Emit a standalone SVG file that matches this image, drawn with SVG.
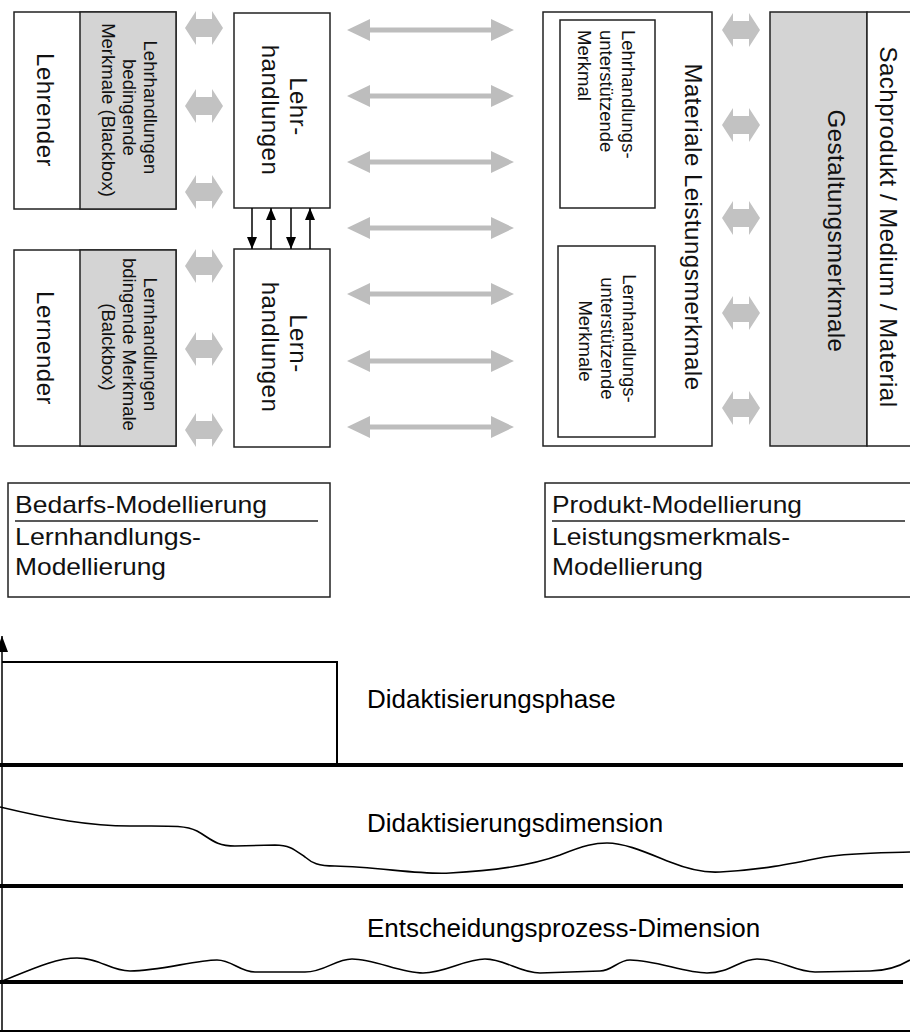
<svg xmlns="http://www.w3.org/2000/svg" xmlns:xlink="http://www.w3.org/1999/xlink" width="910" height="1034" viewBox="0 0 910 1034">
  <style>
    .box { fill: #ffffff; stroke: #222222; stroke-width: 1.5; }
    .grey { fill: #d4d4d4; stroke: #222222; stroke-width: 1.5; }
    .big { font-family: "Liberation Sans", Arial, sans-serif; font-size: 24px; letter-spacing: 0.5px; fill: #111111; }
    .small { font-family: "Liberation Sans", Arial, sans-serif; font-size: 18.5px; fill: #111111; }
    .label { font-family: "Liberation Sans", Arial, sans-serif; font-size: 24px; fill: #111111; }
    .phase { font-family: "Liberation Sans", Arial, sans-serif; font-size: 26px; fill: #000000; }
    .mid { text-anchor: middle; }
    .link { stroke: #000000; stroke-width: 1.5; fill: none; }
    .band { stroke: #000000; stroke-width: 4; }
    .curve { stroke: #000000; stroke-width: 1.6; fill: none; }
  </style>
  <defs>
    <marker id="head" viewBox="0 0 12 10" markerWidth="12" markerHeight="10" refX="12" refY="5" orient="auto" markerUnits="userSpaceOnUse">
      <path d="M0,0 L12,5 L0,10 z" fill="#000000"/>
    </marker>
    <marker id="axisHead" viewBox="0 0 16 12" markerWidth="16" markerHeight="12" refX="16" refY="6" orient="auto" markerUnits="userSpaceOnUse">
      <path d="M0,0 L16,6 L0,12 z" fill="#000000"/>
    </marker>
    <!-- long grey two-way arrow, anchored at its left tip -->
    <polygon id="longArrow" fill="#bdbdbd" points="0,0 23,-11 23,-2.5 144,-2.5 144,-11 167,0 144,11 144,2.5 23,2.5 23,11"/>
    <!-- short fat two-way arrow, centred at origin -->
    <polygon id="shortArrow" fill="#c2c2c2" points="-19,0 -8,-17 -8,-9 8,-9 8,-17 19,0 8,17 8,9 -8,9 -8,17"/>
  </defs>

  <rect width="910" height="1034" fill="#ffffff"/>

  <!-- Teacher side -->
  <g id="lehrender">
    <rect class="box" x="14" y="12" width="162" height="197"/>
    <rect class="grey" x="80" y="12" width="96" height="197"/>
    <text class="big mid" transform="translate(37 110) rotate(90)">Lehrender</text>
    <text class="small mid" transform="translate(144 110) rotate(90)">
      <tspan x="0" y="0">Lehrhandlungen</tspan>
      <tspan x="0" dy="21">bedingende</tspan>
      <tspan x="0" dy="21">Merkmale (Blackbox)</tspan>
    </text>
  </g>

  <g id="lehrhandlungen">
    <rect class="box" x="234" y="13" width="96" height="195"/>
    <text class="big mid" transform="translate(290 110) rotate(90)">
      <tspan x="0" y="0">Lehr-</tspan>
      <tspan x="0" dy="28">handlungen</tspan>
    </text>
  </g>

  <!-- Learner side -->
  <g id="lernender">
    <rect class="box" x="14" y="250" width="162" height="196"/>
    <rect class="grey" x="80" y="250" width="96" height="196"/>
    <text class="big mid" transform="translate(37 348) rotate(90)">Lernender</text>
    <text class="small mid" transform="translate(144 347) rotate(90)">
      <tspan x="0" y="0">Lernhandlungen</tspan>
      <tspan x="0" dy="21">bdingende Merkmale</tspan>
      <tspan x="0" dy="21">(Balckbox)</tspan>
    </text>
  </g>

  <g id="lernhandlungen">
    <rect class="box" x="234" y="249" width="96" height="198"/>
    <text class="big mid" transform="translate(290 347) rotate(90)">
      <tspan x="0" y="0">Lern-</tspan>
      <tspan x="0" dy="28">handlungen</tspan>
    </text>
  </g>

  <!-- Material side -->
  <g id="leistungsmerkmale">
    <rect class="box" x="543" y="12" width="169" height="434"/>
    <text class="big mid" transform="translate(685 227) rotate(90)">Materiale Leistungsmerkmale</text>
  </g>

  <g id="lehr-merkmal">
    <rect class="box" x="560" y="20" width="95" height="188"/>
    <text class="small" transform="translate(622 30) rotate(90)">
      <tspan x="0" y="0">Lehrhandlungs-</tspan>
      <tspan x="0" dy="22">unterstützende</tspan>
      <tspan x="0" dy="22">Merkmal</tspan>
    </text>
  </g>

  <g id="lern-merkmale">
    <rect class="box" x="558" y="246" width="97" height="191"/>
    <text class="small mid" transform="translate(623 341) rotate(90)">
      <tspan x="0" y="0">Lernhandlungs-</tspan>
      <tspan x="0" dy="22">unterstützende</tspan>
      <tspan x="0" dy="22">Merkmale</tspan>
    </text>
  </g>

  <g id="gestaltung">
    <rect class="grey" x="770" y="12" width="97" height="434"/>
    <text class="big mid" transform="translate(828 231) rotate(90)">Gestaltungsmerkmale</text>
  </g>

  <g id="sachprodukt">
    <rect class="box" x="867" y="12" width="50" height="434"/>
    <text class="big mid" transform="translate(880 227) rotate(90)">Sachprodukt / Medium / Material</text>
  </g>

  <!-- Connectors -->
  <g id="connectors">
    <use xlink:href="#shortArrow" x="204" y="28"/>
    <use xlink:href="#shortArrow" x="204" y="106"/>
    <use xlink:href="#shortArrow" x="204" y="192"/>
    <use xlink:href="#shortArrow" x="204" y="266"/>
    <use xlink:href="#shortArrow" x="204" y="349"/>
    <use xlink:href="#shortArrow" x="204" y="430"/>

    <use xlink:href="#longArrow" x="347" y="30"/>
    <use xlink:href="#longArrow" x="347" y="96"/>
    <use xlink:href="#longArrow" x="347" y="162"/>
    <use xlink:href="#longArrow" x="347" y="228"/>
    <use xlink:href="#longArrow" x="347" y="294"/>
    <use xlink:href="#longArrow" x="347" y="361"/>
    <use xlink:href="#longArrow" x="347" y="427"/>

    <use xlink:href="#shortArrow" x="741" y="30"/>
    <use xlink:href="#shortArrow" x="741" y="125"/>
    <use xlink:href="#shortArrow" x="741" y="218"/>
    <use xlink:href="#shortArrow" x="741" y="313"/>
    <use xlink:href="#shortArrow" x="741" y="408"/>

    <line class="link" x1="252" y1="208" x2="252" y2="249" marker-end="url(#head)"/>
    <line class="link" x1="271" y1="249" x2="271" y2="208" marker-end="url(#head)"/>
    <line class="link" x1="291" y1="208" x2="291" y2="249" marker-end="url(#head)"/>
    <line class="link" x1="310" y1="249" x2="310" y2="208" marker-end="url(#head)"/>
  </g>

  <!-- Modelling legends -->
  <g id="bedarfs-modellierung">
    <rect class="box" x="8" y="483" width="322" height="114"/>
    <text class="label" x="15" y="513" textLength="252" lengthAdjust="spacingAndGlyphs">Bedarfs-Modellierung</text>
    <line x1="15" y1="521" x2="318" y2="521" stroke="#222222" stroke-width="1.5"/>
    <text class="label" x="15" y="545" textLength="186" lengthAdjust="spacingAndGlyphs">Lernhandlungs-</text>
    <text class="label" x="15" y="575" textLength="151" lengthAdjust="spacingAndGlyphs">Modellierung</text>
  </g>

  <g id="produkt-modellierung">
    <rect class="box" x="545" y="483" width="370" height="114"/>
    <text class="label" x="552" y="513" textLength="250" lengthAdjust="spacingAndGlyphs">Produkt-Modellierung</text>
    <line x1="552" y1="521" x2="905" y2="521" stroke="#222222" stroke-width="1.5"/>
    <text class="label" x="552" y="545" textLength="238" lengthAdjust="spacingAndGlyphs">Leistungsmerkmals-</text>
    <text class="label" x="552" y="575" textLength="151" lengthAdjust="spacingAndGlyphs">Modellierung</text>
  </g>

  <!-- Phase chart -->
  <g id="phase-chart">
    <line class="link" x1="2" y1="1032" x2="2" y2="636" stroke-width="2" marker-end="url(#axisHead)"/>
    <polyline points="2,662 337,662 337,765" fill="none" stroke="#000000" stroke-width="2"/>
    <line class="band" x1="0" y1="765" x2="903" y2="765"/>
    <line class="band" x1="0" y1="886" x2="903" y2="886"/>
    <line class="band" x1="0" y1="982" x2="903" y2="982"/>
    <line x1="0" y1="1031" x2="910" y2="1031" stroke="#000000" stroke-width="2"/>

    <text class="phase" x="367" y="708">Didaktisierungsphase</text>
    <text class="phase" x="367" y="832">Didaktisierungsdimension</text>
    <text class="phase" x="367" y="937">Entscheidungsprozess-Dimension</text>

    <path class="curve" d="M0,807 C50,819 90,826 130,826 C170,826 185,825 197,831 C210,838 215,846 235,846 L275,845 C290,845 295,850 305,857 C312,863 318,866 335,866 C380,867 420,875 450,873 C490,871 530,866 560,855 C585,845 595,843 607,843 C625,843 645,852 670,862 C690,870 705,873 720,872 C760,870 790,864 825,857 C850,853 880,853 910,852"/>
    <path class="curve" d="M0,982 C30,970 55,958 77,958 C100,958 110,971 130,971 C160,971 195,960 217,960 C232,960 240,972 255,972 L305,972 C325,972 335,959 352,959 C375,959 400,973 423,973 C445,973 465,959 485,959 C505,959 520,973 540,973 L600,971 C612,971 618,960 630,960 C655,960 685,973 707,973 C730,973 740,959 757,959 C780,959 795,972 815,972 L870,971 C885,971 900,966 910,960"/>
  </g>
</svg>
